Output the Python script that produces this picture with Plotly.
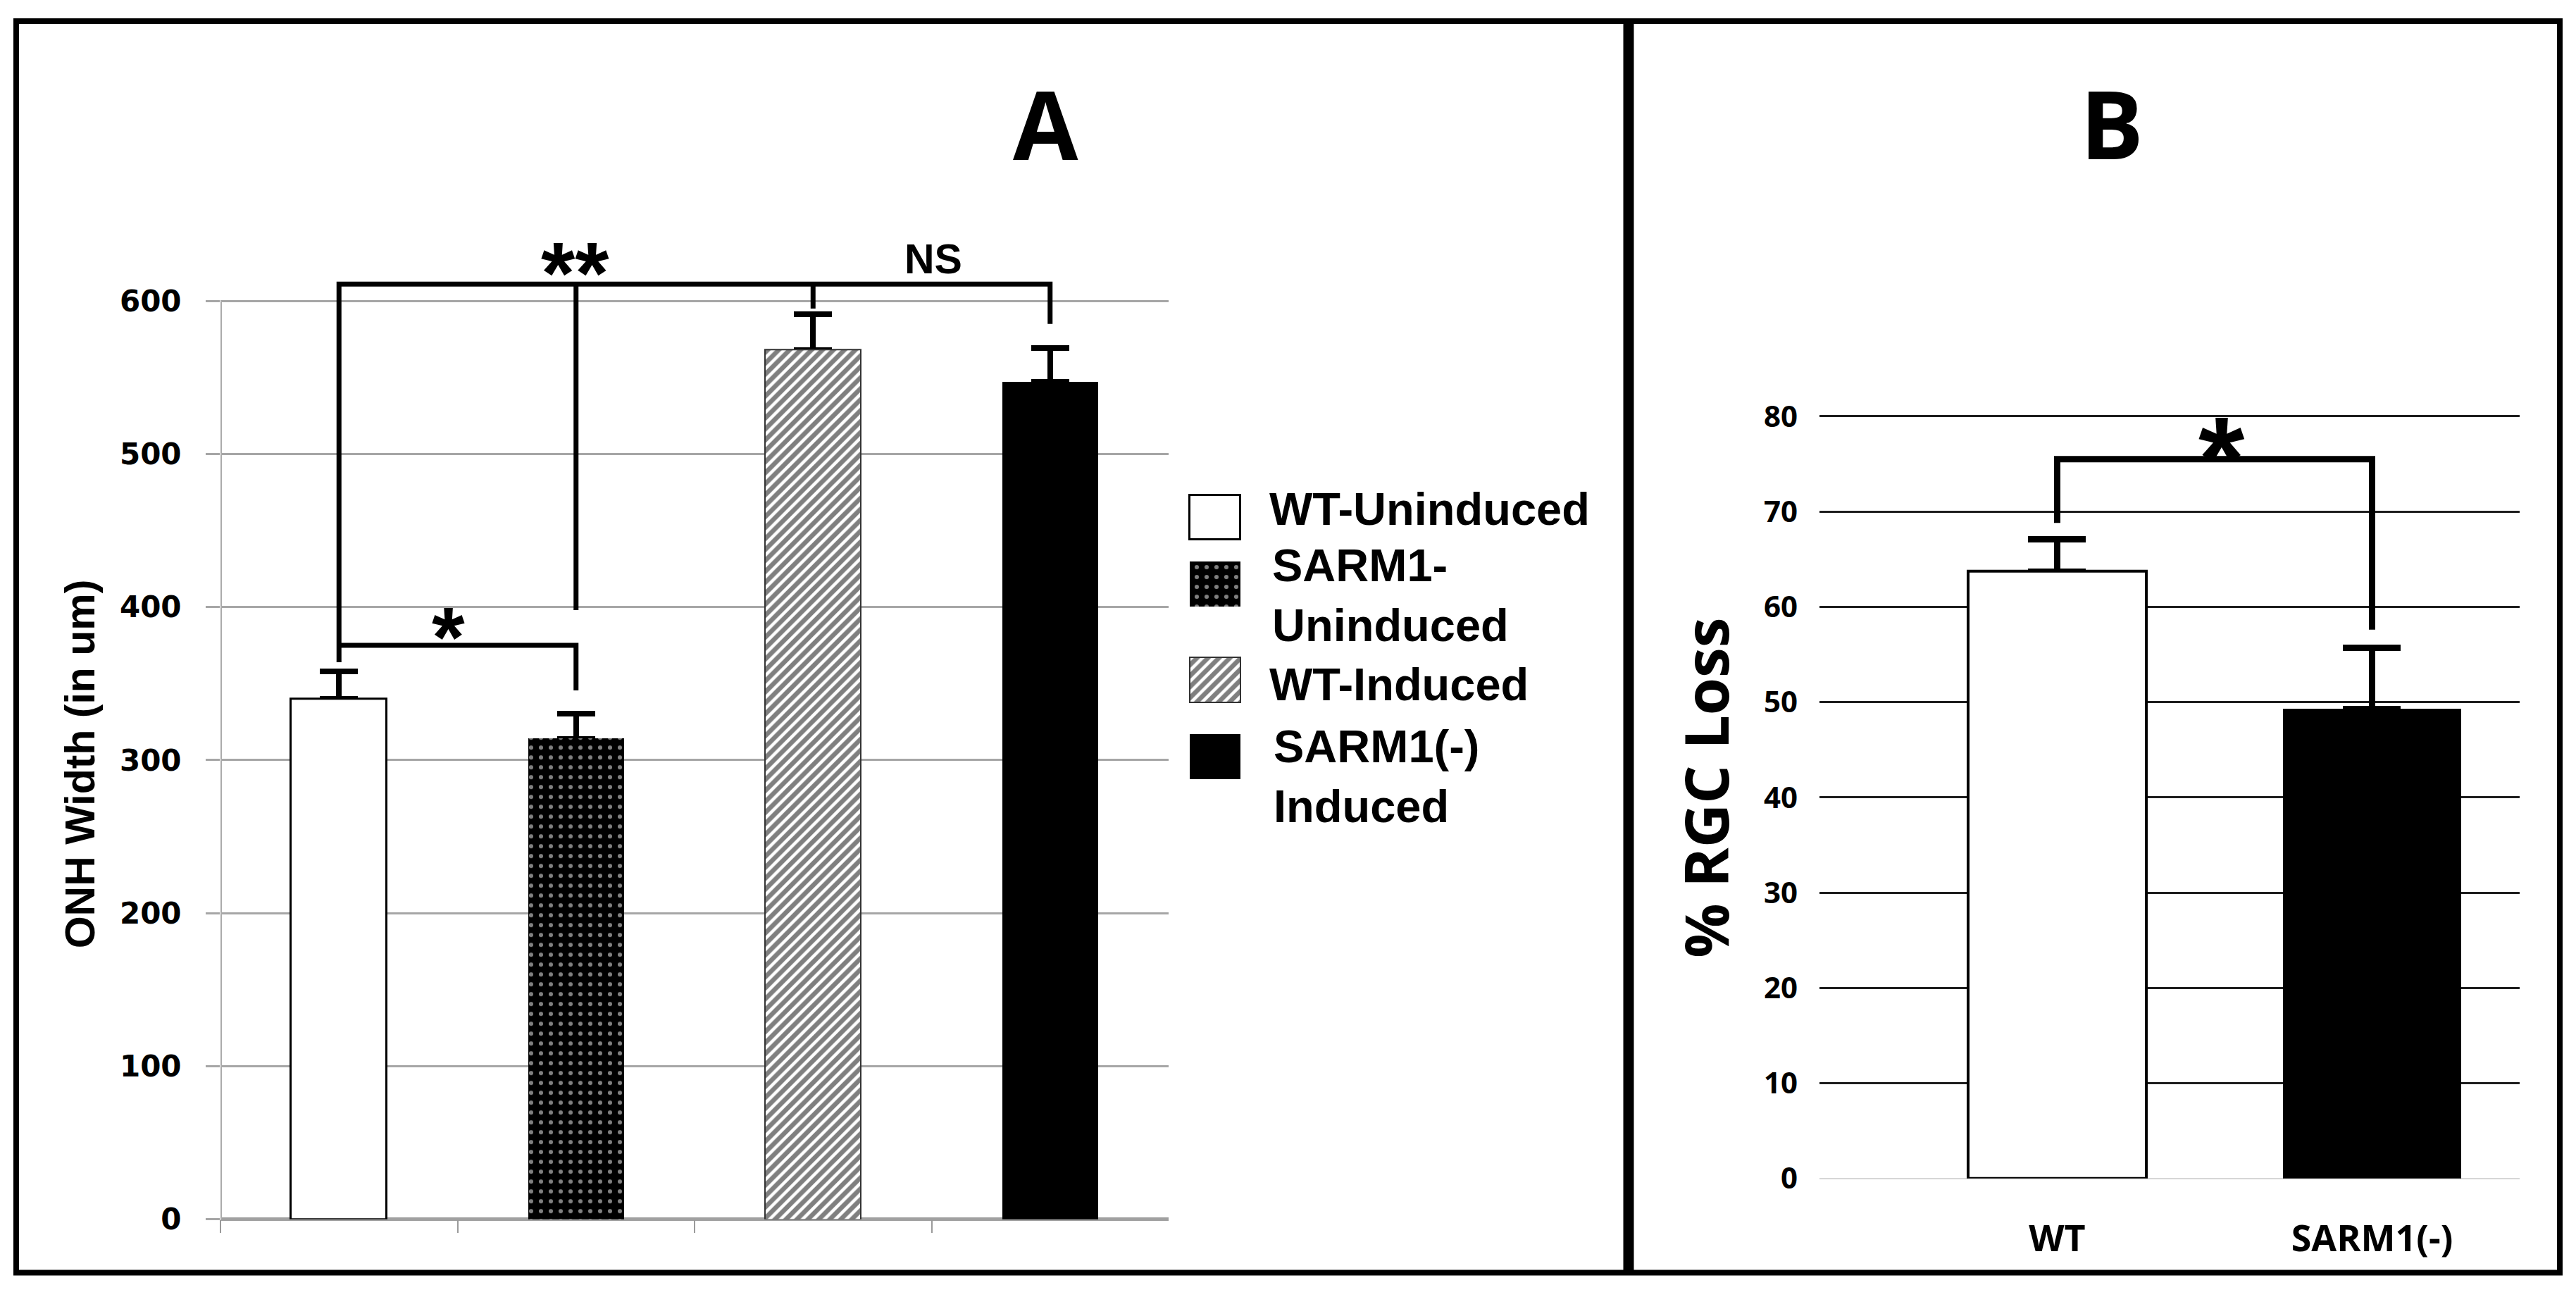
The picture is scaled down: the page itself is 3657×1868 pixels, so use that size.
import plotly.graph_objects as go

W, H = 3657, 1868

# ---------------- data ----------------
A_CATEGORIES = ["WT-Uninduced", "SARM1-Uninduced", "WT-Induced", "SARM1(-) Induced"]
A_VALUES = [340, 314, 568, 547]
A_ERRORS = [18, 16.5, 23.5, 22]
A_TICKS = [0, 100, 200, 300, 400, 500, 600]
A_YTITLE = "ONH Width (in um)"

B_CATEGORIES = ["WT", "SARM1(-)"]
B_VALUES = [63.7, 49.3]
B_ERRORS = [3.4, 6.4]
B_TICKS = [0, 10, 20, 30, 40, 50, 60, 70, 80]
B_YTITLE = "% RGC Loss"

LEGEND_LABELS = ["WT-Uninduced", "SARM1-<br>Uninduced", "WT-Induced", "SARM1(-)<br>Induced"]

# significance labels
A_SIG = ["**", "NS", "*"]
B_SIG = ["*"]

# ---------------- helpers ----------------
def px_x(p):
    return p / W


def px_y(p):
    return 1 - p / H


ARIAL = "Liberation Sans"
OPEN = "Open Sans"

A_STYLES = [
    dict(color="white", line=dict(color="black", width=3)),
    dict(color="black", line=dict(color="black", width=0),
         pattern=dict(shape=".", fgcolor="white", bgcolor="black", size=14, solidity=0.15)),
    dict(color="white", line=dict(color="#333333", width=2),
         pattern=dict(shape="/", fgcolor="black", bgcolor="white", size=11, solidity=0.6)),
    dict(color="black", line=dict(color="black", width=0)),
]
B_STYLES = [
    dict(color="white", line=dict(color="black", width=4)),
    dict(color="black", line=dict(color="black", width=0)),
]
CARRIER = dict(color="rgba(0,0,0,0)", line=dict(width=0))

A_BAR_W = 0.405
B_BAR_W = 0.564

fig = go.Figure()

# ---- Panel A: error bars (drawn first, so bars sit on top of their base) ----
for i, cat in enumerate(A_CATEGORIES):
    fig.add_trace(go.Bar(
        x=[i], y=[A_VALUES[i]], width=A_BAR_W, name=cat + " error", showlegend=False,
        marker=CARRIER, hoverinfo="skip",
        error_y=dict(type="data", symmetric=False, array=[A_ERRORS[i]], arrayminus=[0],
                     color="black", thickness=8, width=27),
        xaxis="x", yaxis="y",
    ))
# ---- Panel A bars ----
for i, cat in enumerate(A_CATEGORIES):
    fig.add_trace(go.Bar(
        x=[i], y=[A_VALUES[i]], width=A_BAR_W, name=cat, showlegend=False,
        marker=A_STYLES[i], xaxis="x", yaxis="y",
    ))

# ---- Panel B ----
for i, cat in enumerate(B_CATEGORIES):
    fig.add_trace(go.Bar(
        x=[i], y=[B_VALUES[i]], width=B_BAR_W, name=cat + " error", showlegend=False,
        marker=CARRIER, hoverinfo="skip",
        error_y=dict(type="data", symmetric=False, array=[B_ERRORS[i]], arrayminus=[0],
                     color="black", thickness=9, width=41),
        xaxis="x2", yaxis="y2",
    ))
for i, cat in enumerate(B_CATEGORIES):
    fig.add_trace(go.Bar(
        x=[i], y=[B_VALUES[i]], width=B_BAR_W, name=cat, showlegend=False,
        marker=B_STYLES[i], xaxis="x2", yaxis="y2",
    ))

# ---- legend swatches (drawn on a hidden pixel-space axis) ----
LEG_TOPS = [711, 807, 945, 1056]
LEG_H = 65
LEG_XC = 1725
for i, cat in enumerate(A_CATEGORIES):
    fig.add_trace(go.Bar(
        x=[LEG_XC], y=[LEG_H], base=[LEG_TOPS[i]], width=72, name=cat, showlegend=False,
        marker=A_STYLES[i], xaxis="x3", yaxis="y3", hoverinfo="skip",
    ))

# ---- layout ----
A_DOM_X = [px_x(313), px_x(1659)]
A_DOM_Y = [px_y(1756), px_y(1756 - 640 * 2.2083)]
B_DOM_X = [px_x(2583), px_x(3576.5)]
B_DOM_Y = [px_y(1697), px_y(1697 - 82 * 13.744)]

fig.update_layout(
    width=W, height=H,
    margin=dict(l=0, r=0, t=0, b=0),
    paper_bgcolor="white", plot_bgcolor="rgba(0,0,0,0)",
    barmode="overlay", bargap=0,
    showlegend=False,
    xaxis=dict(domain=A_DOM_X, range=[-0.5, 3.5], anchor="y",
               tickmode="array", tickvals=[-0.5, 0.5, 1.5, 2.5],
               ticks="outside", ticklen=18, tickwidth=2, tickcolor="#9a9a9a",
               showticklabels=False, showgrid=False, zeroline=False, showline=False),
    yaxis=dict(domain=A_DOM_Y, range=[0, 640], anchor="x",
               tickmode="array", tickvals=A_TICKS,
               ticks="outside", ticklen=20, tickwidth=3, tickcolor="#a6a6a6",
               ticklabelstandoff=26,
               tickfont=dict(family="DejaVu Sans", size=42, color="black", weight="bold"),
               showgrid=True, gridcolor="#a6a6a6", gridwidth=3,
               zeroline=True, zerolinecolor="#a0a0a0", zerolinewidth=5, showline=False),
    xaxis2=dict(domain=B_DOM_X, range=[-0.755, 1.4676], anchor="y2",
                tickmode="array", tickvals=list(range(len(B_CATEGORIES))), ticktext=B_CATEGORIES,
                ticks="", ticklabelstandoff=50,
                tickfont=dict(family=OPEN, size=52, color="black", weight="bold"),
                showgrid=False, zeroline=False, showline=False),
    yaxis2=dict(domain=B_DOM_Y, range=[0, 82], anchor="x2",
                tickmode="array", tickvals=B_TICKS, ticks="", ticklabelstandoff=30,
                tickfont=dict(family=OPEN, size=42, color="black", weight="bold"),
                showgrid=True, gridcolor="#1e1e1e", gridwidth=3,
                zeroline=True, zerolinecolor="#d6d6d6", zerolinewidth=2, showline=False),
    xaxis3=dict(domain=[px_x(1650), px_x(1800)], range=[1650, 1800], anchor="y3", visible=False),
    yaxis3=dict(domain=[px_y(1150), px_y(680)], range=[1150, 680], anchor="x3", visible=False),
)

shapes = []
# frame
shapes.append(dict(type="rect", xref="paper", yref="paper",
                   x0=px_x(23), x1=px_x(3634), y0=px_y(1833), y1=px_y(27.5),
                   line=dict(color="black", width=8)))
shapes.append(dict(type="line", xref="paper", yref="paper",
                   x0=px_x(2312), x1=px_x(2312), y0=px_y(1833), y1=px_y(27.5),
                   line=dict(color="black", width=15)))
# panel A y-axis line (0..600)
shapes.append(dict(type="line", xref="x", yref="y", x0=-0.5, x1=-0.5, y0=0, y1=600,
                   line=dict(color="#ababab", width=4)))
# panel A brackets
A_TOP = 611
A_STAR = 375
shapes.append(dict(type="path", xref="x", yref="y",
                   path=f"M0,364 L0,{A_TOP} L3,{A_TOP} L3,585",
                   line=dict(color="black", width=7)))
shapes.append(dict(type="path", xref="x", yref="y", path=f"M1,398 L1,{A_TOP}",
                   line=dict(color="black", width=7)))
shapes.append(dict(type="path", xref="x", yref="y", path=f"M2,595 L2,{A_TOP}",
                   line=dict(color="black", width=7)))
shapes.append(dict(type="path", xref="x", yref="y", path=f"M0,{A_STAR} L1,{A_STAR} L1,345.5",
                   line=dict(color="black", width=7)))
# panel B bracket
shapes.append(dict(type="path", xref="x2", yref="y2", path="M0,68.8 L0,75.5 L1,75.5 L1,57.6",
                   line=dict(color="black", width=9)))
fig.update_layout(shapes=shapes)

ann = []
# panel letters
ann.append(dict(text="A", x=px_x(1484.5), y=px_y(175), xref="paper", yref="paper",
                showarrow=False, xanchor="center", yanchor="middle",
                font=dict(family=OPEN, size=134, color="black", weight="bold")))
ann.append(dict(text="B", x=px_x(2998), y=px_y(174), xref="paper", yref="paper",
                showarrow=False, xanchor="center", yanchor="middle",
                font=dict(family=OPEN, size=134, color="black", weight="bold")))
# axis titles
ann.append(dict(text=A_YTITLE, x=px_x(114), y=px_y(1099), xref="paper", yref="paper",
                showarrow=False, textangle=-90, xanchor="center", yanchor="middle",
                font=dict(family=ARIAL, size=59, color="black", weight="bold")))
ann.append(dict(text=B_YTITLE, x=px_x(2421), y=px_y(1134), xref="paper", yref="paper",
                showarrow=False, textangle=-90, xanchor="center", yanchor="middle",
                font=dict(family=OPEN, size=86, color="black", weight="bold")))
# significance marks
ann.append(dict(text=A_SIG[0], x=px_x(816), y=px_y(391), xref="paper", yref="paper",
                showarrow=False, xanchor="center", yanchor="middle",
                font=dict(family=ARIAL, size=124, color="black", weight="bold")))
ann.append(dict(text=A_SIG[1], x=px_x(1325), y=px_y(371), xref="paper", yref="paper",
                showarrow=False, xanchor="center", yanchor="middle",
                font=dict(family=ARIAL, size=59, color="black", weight="bold")))
ann.append(dict(text=A_SIG[2], x=px_x(636), y=px_y(916), xref="paper", yref="paper",
                showarrow=False, xanchor="center", yanchor="middle",
                font=dict(family=ARIAL, size=120, color="black", weight="bold")))
ann.append(dict(text=B_SIG[0], x=px_x(3154), y=px_y(659), xref="paper", yref="paper",
                showarrow=False, xanchor="center", yanchor="middle",
                font=dict(family=ARIAL, size=168, color="black", weight="bold")))
# legend labels
LEG_TEXT_X = [1800, 1804, 1800, 1806]
LEG_TEXT_Y = [731, 856, 984, 1117]
for i, label in enumerate(LEGEND_LABELS):
    ann.append(dict(text=label, x=px_x(LEG_TEXT_X[i]), y=px_y(LEG_TEXT_Y[i]),
                    xref="paper", yref="paper", showarrow=False,
                    xanchor="left", yanchor="middle", align="left",
                    font=dict(family=ARIAL, size=65, color="black", weight="bold")))
fig.update_layout(annotations=ann)

fig.write_html(
    "out.html",
    config={"displayModeBar": False},
    post_script="document.body.style.margin='0px';document.body.style.padding='0px';"
                "document.documentElement.style.overflow='hidden';",
)
